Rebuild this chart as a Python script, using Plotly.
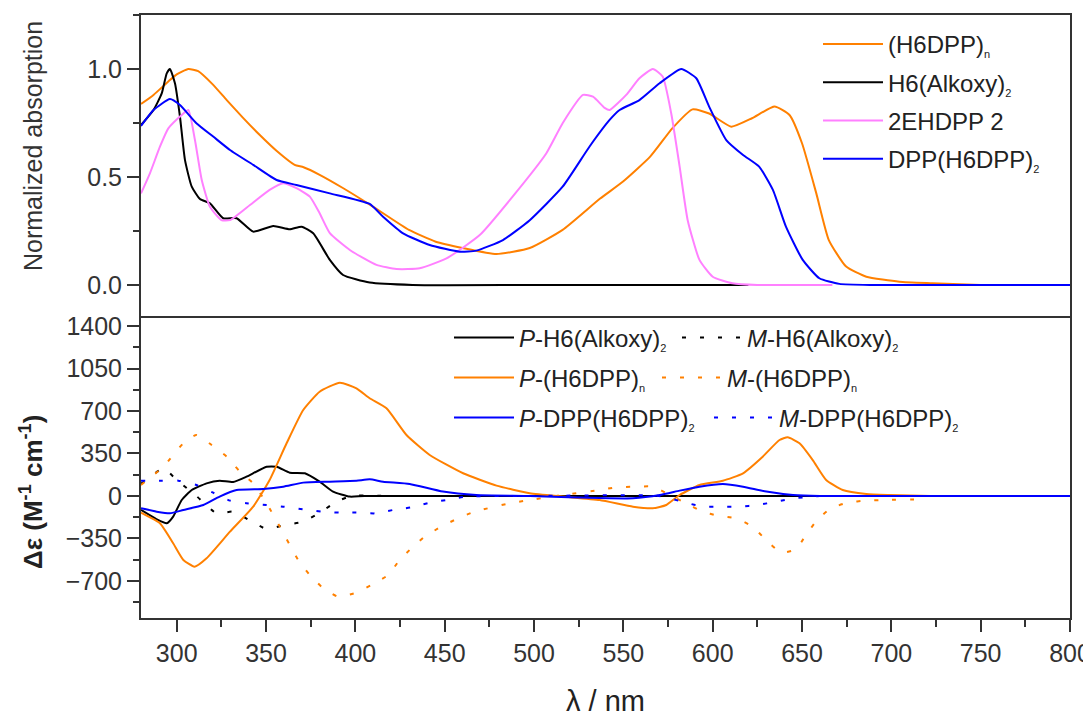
import plotly.graph_objects as go

# ---------------- Top panel: normalized absorption ----------------
abs_h6dpp_x = [280, 287, 295, 300, 306.5, 312, 320, 328, 337, 346.5, 356, 366, 371, 380, 393, 410, 430, 445,
               460, 479, 497.6, 516, 537, 550, 565, 577.5, 588.7, 598, 610.4, 622, 634.6, 643, 650, 658, 665,
               674.7, 686, 704.5, 723, 750]
abs_h6dpp_y = [0.838, 0.88, 0.94, 0.975, 1.0, 0.99, 0.93, 0.856, 0.775, 0.694, 0.62, 0.556, 0.545, 0.51, 0.449,
               0.362, 0.255, 0.2, 0.171, 0.143, 0.171, 0.255, 0.4, 0.48, 0.594, 0.726, 0.813, 0.794, 0.733, 0.772,
               0.826, 0.787, 0.656, 0.424, 0.208, 0.085, 0.038, 0.015, 0.008, 0.0]

abs_alkoxy_x = [280, 287, 291.6, 294.4, 296.2, 299, 301.8, 304.6, 308.4, 313, 318.6, 326, 333.5, 342.8, 354,
                363.3, 369.9, 376.4, 385.7, 393.1, 408, 432, 500, 620]
abs_alkoxy_y = [0.74, 0.81, 0.887, 0.98, 1.0, 0.934, 0.78, 0.579, 0.455, 0.398, 0.378, 0.309, 0.309, 0.247,
                0.273, 0.258, 0.27, 0.239, 0.116, 0.046, 0.011, 0.0, 0.0, 0.0]

abs_2eh_x = [280, 285, 290.6, 295.3, 302.8, 306.5, 310.2, 314, 318.6, 325, 329.8, 341, 352, 359.6, 367, 374.5,
             380, 385.7, 396.9, 411.8, 423, 436, 451, 469.6, 488, 506.9, 516, 527.4, 533, 539.5, 542.3, 551.6,
             559, 566.5, 572, 576.8, 581.5, 586, 592.6, 600, 611, 625, 667]
abs_2eh_y = [0.424, 0.517, 0.64, 0.725, 0.787, 0.81, 0.671, 0.486, 0.362, 0.30, 0.30, 0.37, 0.44, 0.471, 0.448,
             0.409, 0.332, 0.24, 0.162, 0.093, 0.074, 0.077, 0.123, 0.231, 0.409, 0.61, 0.749, 0.88, 0.872, 0.82,
             0.81, 0.88, 0.957, 1.0, 0.965, 0.794, 0.548, 0.30, 0.116, 0.038, 0.008, 0.0, 0.0]

abs_dpp_x = [280, 287, 296.2, 301.8, 311, 320.4, 329.8, 342.8, 355.9, 367, 385.7, 408, 415.5, 426.7, 441.6,
             458.4, 467.7, 482.6, 497.6, 516, 531, 542.3, 547.9, 559, 570.3, 582.4, 590.8, 598, 607.6, 617, 626,
             633.7, 641, 650.4, 659.7, 670.9, 690, 800]
abs_dpp_y = [0.736, 0.81, 0.861, 0.833, 0.749, 0.687, 0.625, 0.556, 0.486, 0.463, 0.424, 0.375, 0.316, 0.239,
             0.185, 0.154, 0.159, 0.208, 0.30, 0.455, 0.64, 0.764, 0.81, 0.856, 0.934, 1.0, 0.957, 0.826, 0.671,
             0.602, 0.548, 0.44, 0.27, 0.116, 0.031, 0.005, 0.0, 0.0]

# ---------------- Bottom panel: CD (delta epsilon) ----------------
cd_p_alkoxy_x = [280, 288.8, 294.4, 298, 302.8, 308.4, 316.7, 324, 331.6, 339, 350.3, 355.9, 363.3, 371.7, 380,
                 387.5, 396.9, 405, 658]
cd_p_alkoxy_y = [-115, -192, -225, -170, -33, 49, 104, 126, 115, 159, 241, 241, 192, 187, 118, 36, -5, 0, 0]

cd_m_alkoxy_x = [280, 283, 292.5, 300, 311, 322.3, 331.6, 342, 350.3, 360.5, 370.8, 381, 389.4, 398, 420]
cd_m_alkoxy_y = [100, 132, 228, 132, 0, -143, -129, -211, -272, -239, -211, -129, -47, 0, 0]

cd_p_h6dpp_x = [280, 290.6, 298, 303.7, 310, 316.7, 329.8, 342.8, 352, 361.5, 370.8, 380, 391.3, 400.6, 408,
                417.4, 428.6, 441.6, 460.3, 479, 497.6, 516, 536.7, 555.4, 566.5, 574, 581.5, 592.6, 605.7, 617,
                628, 637.4, 642, 648.6, 656, 663.5, 672.8, 686, 699, 722]
cd_p_h6dpp_y = [-137, -225, -390, -527, -582, -513, -294, -88, 132, 434, 708, 859, 933, 887, 805, 722, 502, 338,
                187, 85, 22, -5, -33, -88, -101, -74, 8, 91, 126, 187, 324, 461, 483, 434, 296, 132, 49, 16, 8, 0]

cd_m_h6dpp_x = [280, 292.5, 303.7, 311, 319.5, 328, 335.4, 342.8, 350.3, 357.7, 368, 374.5, 382, 390.3, 400.6,
                409, 418.3, 424.8, 432.3, 438.8, 448, 457.5, 466.8, 486.4, 495.7, 516, 536.7, 546, 557, 566.5,
                576, 585, 594.4, 602.8, 613, 622.4, 629.8, 638.3, 646.6, 652.2, 658.8, 666.3, 675.6, 686, 697, 720]
cd_m_h6dpp_y = [91, 241, 434, 502, 420, 324, 200, 104, -60, -253, -527, -651, -760, -829, -796, -733, -651,
                -527, -417, -335, -253, -184, -129, -60, -38, 8, 49, 71, 77, 77, 8, -60, -129, -162, -184, -253,
                -362, -467, -439, -321, -192, -101, -55, -38, -33, -27]

cd_p_dpp_x = [280, 288.8, 296.2, 303.7, 314.9, 324, 333.5, 348.4, 359.6, 370.8, 385.7, 400.6, 408, 415.5, 430.4,
              449, 467.7, 497.6, 542, 555.4, 570.3, 581.5, 592.6, 605.7, 617, 630, 645, 660, 800]
cd_p_dpp_y = [-101, -129, -143, -115, -74, -5, 49, 58, 77, 110, 118, 126, 137, 118, 99, 36, 8, 0, -19, -19, 8,
              44, 77, 99, 77, 36, 8, 0, 0]

cd_m_dpp_x = [280, 291.6, 300.9, 311, 320.4, 329.8, 339, 350.3, 359.6, 370.8, 381, 391.3, 400.6, 410.9, 421.2,
              431.5, 441.6, 451, 462, 500, 570, 585, 594.4, 604.7, 615, 625, 635.6, 645.7, 660]
cd_m_dpp_y = [126, 126, 126, 91, 27, -38, -60, -74, -88, -110, -129, -137, -137, -143, -115, -93, -55, -33, -5,
              0, 0, -55, -88, -88, -88, -74, -47, -19, 0]

x_ticks = [300, 350, 400, 450, 500, 550, 600, 650, 700, 750, 800]
top_ticks = [0.0, 0.5, 1.0]
top_minor = [0.25, 0.75, 1.25]
bottom_ticks = [-700, -350, 0, 350, 700, 1050, 1400]
bottom_minor = [-875, -525, -175, 175, 525, 875, 1225]

ORANGE = "#FF8000"
BLACK = "#000000"
PINK = "#FF80FF"
BLUE = "#0000FF"
FONT = "Liberation Sans, Arial, sans-serif"
DOT = "4px,14px"
TXT = "#222222"


def sub(s):
    return '<sub><span style="font-size:11px">' + s + '</span></sub>'


fig = go.Figure()


def add(x, y, name, color, ya, legend, dash="solid", group=None):
    fig.add_trace(go.Scatter(
        x=x, y=y, name=name, mode="lines", xaxis="x2" if ya == "y2" else "x", yaxis=ya, legend=legend,
        legendgroup=group,
        line=dict(color=color, width=2, dash=dash, shape="spline", smoothing=0.5),
        hoverinfo="skip"))


add(abs_h6dpp_x, abs_h6dpp_y, "(H6DPP)" + sub("n"), ORANGE, "y", "legend", group="a")
add(abs_alkoxy_x, abs_alkoxy_y, "H6(Alkoxy)" + sub("2"), BLACK, "y", "legend", group="b")
add(abs_2eh_x, abs_2eh_y, "2EHDPP 2", PINK, "y", "legend", group="c")
add(abs_dpp_x, abs_dpp_y, "DPP(H6DPP)" + sub("2"), BLUE, "y", "legend", group="d")

add(cd_p_alkoxy_x, cd_p_alkoxy_y, "<i>P</i>-H6(Alkoxy)" + sub("2"), BLACK, "y2", "legend2")
add(cd_m_alkoxy_x, cd_m_alkoxy_y, "<i>M</i>-H6(Alkoxy)" + sub("2"), BLACK, "y2", "legend2", DOT)
add(cd_p_h6dpp_x, cd_p_h6dpp_y, "<i>P</i>-(H6DPP)" + sub("n"), ORANGE, "y2", "legend3")
add(cd_m_h6dpp_x, cd_m_h6dpp_y, "<i>M</i>-(H6DPP)" + sub("n"), ORANGE, "y2", "legend3", DOT)
add(cd_p_dpp_x, cd_p_dpp_y, "<i>P</i>-DPP(H6DPP)" + sub("2"), BLUE, "y2", "legend4")
add(cd_m_dpp_x, cd_m_dpp_y, "<i>M</i>-DPP(H6DPP)" + sub("2"), BLUE, "y2", "legend4", DOT)

AX = "#333333"
tickfont = dict(family=FONT, size=25, color="#333333")
base = dict(showgrid=False, zeroline=False, automargin=False, linewidth=2, linecolor=AX)

# The page body adds an 8 px offset, so the figure is sized to fit inside the window.
OFF = 8
FIG_W, FIG_H = 1091 - OFF, 722 - OFF
L, R, T, B = 141 - OFF, 21, 15 - OFF, 104
PW, PH = FIG_W - L - R, FIG_H - T - B
split = 300 / PH


def px2paper(px, py):
    # px, py are page pixel positions (window coordinates)
    return (px - OFF - L) / PW, (FIG_H - B - (py - OFF)) / PH


def leg(px, py, **kw):
    x, y = px2paper(px, py)
    d = dict(x=x, y=y, xanchor="left", bgcolor="rgba(0,0,0,0)",
             font=dict(family=FONT, size=24, color=TXT), itemwidth=60)
    d.update(kw)
    return d


fig.update_layout(
    width=FIG_W, height=FIG_H,
    margin=dict(l=L, r=R, t=T, b=B),
    paper_bgcolor="white", plot_bgcolor="white",
    font=dict(family=FONT, color=TXT),
    showlegend=True,
    xaxis=dict(domain=[0, 1], anchor="y", range=[280, 800], showticklabels=False, ticks="",
               side="top", showline=True, mirror=False, **base),
    yaxis=dict(domain=[split, 1], anchor="x", range=[-0.153, 1.25], tickvals=top_ticks,
               tickformat=".1f", ticks="outside", ticklen=12, tickwidth=2, tickcolor=AX,
               minor=dict(tickvals=top_minor, ticks="outside", ticklen=6, tickwidth=2, tickcolor=AX),
               tickfont=tickfont, showline=True, mirror=True, **base),
    xaxis2=dict(domain=[0, 1], anchor="y2", range=[280, 800], tickvals=x_ticks, ticks="outside",
                ticklen=12, tickwidth=2, tickcolor=AX,
                minor=dict(dtick=25, tick0=275, ticks="outside", ticklen=7, tickwidth=2, tickcolor=AX),
                tickfont=tickfont, showline=True, mirror=True, **base),
    yaxis2=dict(domain=[0, split], anchor="x2", range=[-1005, 1466], tickvals=bottom_ticks,
                ticks="outside", ticklen=12, tickwidth=2, tickcolor=AX,
                minor=dict(tickvals=bottom_minor, ticks="outside", ticklen=6, tickwidth=2, tickcolor=AX),
                tickfont=tickfont, showline=True, mirror=True, **base),
    legend=leg(818, 22, yanchor="top", traceorder="grouped", tracegroupgap=4),
    legend2=leg(449, 338, yanchor="middle", orientation="h", entrywidth=153),
    legend3=leg(449, 378, yanchor="middle", orientation="h", entrywidth=133),
    legend4=leg(449, 418, yanchor="middle", orientation="h", entrywidth=185),
)

ax, ay = px2paper(605, 701)
tx, ty = px2paper(33, 146)
bx, by = px2paper(31, 492)
fig.add_annotation(text="λ / nm", x=ax, y=ay, xref="paper", yref="paper", showarrow=False,
                   xanchor="center", yanchor="middle", font=dict(family=FONT, size=29, color=TXT))
fig.add_annotation(text="Normalized absorption", x=tx, y=ty, xref="paper", yref="paper", showarrow=False,
                   textangle=-90, xanchor="center", yanchor="middle",
                   font=dict(family=FONT, size=25, color="#333333"))
fig.add_annotation(text="<b>Δε (M<sup>-1</sup> cm<sup>-1</sup>)</b>", x=bx, y=by, xref="paper", yref="paper",
                   showarrow=False, textangle=-90, xanchor="center", yanchor="middle",
                   font=dict(family=FONT, size=26, color=TXT))

fig.write_html("out.html")
